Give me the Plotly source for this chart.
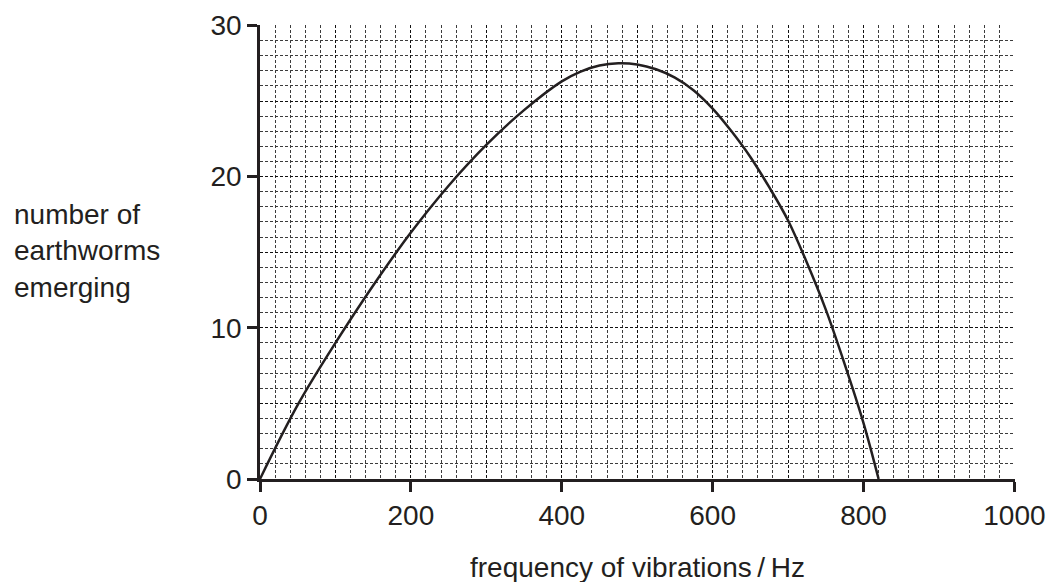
import plotly.graph_objects as go

freq = [0, 50, 100, 150, 200, 250, 300, 350, 400, 425, 450, 475, 500, 525, 550, 575, 600, 625, 650, 675, 700, 725, 750, 775, 800, 820]
worms = [0, 4.9, 9.0, 12.8, 16.3, 19.4, 22.1, 24.4, 26.3, 26.95, 27.35, 27.5, 27.42, 27.1, 26.55, 25.7, 24.5, 23.0, 21.3, 19.3, 17.1, 14.3, 11.2, 7.6, 3.7, 0]

x_ticks = [0, 200, 400, 600, 800, 1000]
y_ticks = [0, 10, 20, 30]
x_range = [0, 1000.8]
y_range = [0, 30.03]

INK = "#231f20"
GRID = "#3c3c3c"
FONT = "Liberation Sans, Arial, sans-serif"
FS = 28

fig = go.Figure()
fig.add_trace(go.Scatter(x=freq, y=worms, mode="lines",
                         line=dict(color=INK, width=2.5, shape="spline", smoothing=1.0),
                         hoverinfo="skip", showlegend=False))
# invisible trace for overlay axes
fig.add_trace(go.Scatter(x=[0, 1000], y=[0, 30], xaxis="x2", yaxis="y2",
                         mode="markers", marker=dict(opacity=0), showlegend=False, hoverinfo="skip"))

fig.update_layout(
    width=1050, height=582,
    margin=dict(l=260, r=35, t=25, b=103, autoexpand=False),
    paper_bgcolor="white", plot_bgcolor="white",
    font=dict(family=FONT, size=FS, color=INK),
    xaxis=dict(range=x_range, tickvals=x_ticks, ticks="outside", ticklen=10, tickwidth=2.5,
               tickcolor=INK, showline=True, linewidth=2.5, linecolor=INK, showgrid=False,
               zeroline=False, layer="above traces", automargin=False,
               minor=dict(dtick=20, showgrid=True, gridcolor=GRID, gridwidth=1, griddash="3px,2px", ticks=""),
               tickfont=dict(size=FS)),
    yaxis=dict(range=y_range, tickvals=y_ticks, ticks="outside", ticklen=10, tickwidth=2.5,
               tickcolor=INK, showline=True, linewidth=2.5, linecolor=INK, showgrid=False,
               zeroline=False, layer="above traces", automargin=False,
               minor=dict(dtick=1, showgrid=True, gridcolor=GRID, gridwidth=1, griddash="3px,2px", ticks=""),
               tickfont=dict(size=FS)),
    xaxis2=dict(range=x_range, overlaying="x", dtick=100, showgrid=True, gridcolor="#111111",
                gridwidth=1.3, griddash="3px,2px", showticklabels=False, ticks="", zeroline=False,
                showline=False, automargin=False),
    yaxis2=dict(range=y_range, overlaying="y", dtick=5, showgrid=True, gridcolor="#111111",
                gridwidth=1.3, griddash="3px,2px", showticklabels=False, ticks="", zeroline=False,
                showline=False, automargin=False),
)

fig.add_annotation(text="number of<br>earthworms<br>emerging", xref="paper", yref="paper",
                   x=-248/755, y=0.502, xanchor="left", yanchor="middle", align="left",
                   showarrow=False, font=dict(size=FS, family=FONT, color=INK))
fig.add_annotation(text="frequency of vibrations\u2009/\u2009Hz", xref="paper", yref="paper",
                   x=0.5, y=-88/454, xanchor="center", yanchor="middle",
                   showarrow=False, font=dict(size=FS, family=FONT, color=INK))

fig.write_html("out.html", config={"displayModeBar": False},
               post_script="document.body.style.margin='0';document.body.style.overflow='hidden';")
